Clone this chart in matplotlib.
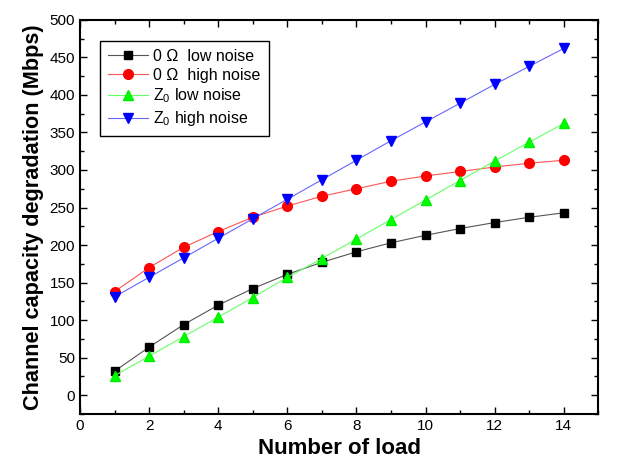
import numpy as np
import matplotlib.pyplot as plt
from matplotlib.ticker import MultipleLocator

plt.rcParams['font.family'] = ['Liberation Sans', 'DejaVu Sans']
plt.rcParams['mathtext.fontset'] = 'custom'
plt.rcParams['mathtext.rm'] = 'Liberation Sans'

# Data
loads = np.arange(1, 15)
ohm_low = [32, 64, 94, 120, 142, 161, 177, 191, 203, 213, 222, 230, 237, 243]
ohm_high = [138, 170, 197, 218, 237, 252, 265, 275, 285, 292, 298, 304, 309, 313]
z0_low = [26, 52, 78, 104, 130, 157, 182, 208, 234, 260, 286, 312, 337, 362]
z0_high = [131, 157, 183, 209, 235, 261, 287, 313, 339, 364, 389, 414, 438, 462]

labels = ['0 \u03a9  low noise', '0 \u03a9  high noise',
          'Z$_0$ low noise', 'Z$_0$ high noise']

fig = plt.figure(figsize=(6.2, 4.62), dpi=100)
ax = fig.add_axes([0.129, 0.104, 0.836, 0.853])

ax.plot(loads, ohm_low, '-s', color='#555555', mfc='black', mec='black', ms=6, lw=0.8, label=labels[0])
ax.plot(loads, ohm_high, '-o', color='#ff5555', mfc='red', mec='red', ms=7, lw=0.8, label=labels[1])
ax.plot(loads, z0_low, '-^', color='#66ff66', mfc='#00ff00', mec='#00ee00', ms=7.5, lw=0.8, label=labels[2])
ax.plot(loads, z0_high, '-v', color='#6666ff', mfc='blue', mec='blue', ms=7.5, lw=0.8, label=labels[3])

ax.set_xlim(0, 15)
ax.set_ylim(-25, 500)
ax.xaxis.set_major_locator(MultipleLocator(2))
ax.xaxis.set_minor_locator(MultipleLocator(1))
ax.yaxis.set_major_locator(MultipleLocator(50))
ax.yaxis.set_minor_locator(MultipleLocator(25))
ax.tick_params(which='both', direction='in', top=True, right=True, labelsize=11)
ax.tick_params(which='major', length=5, width=1)
ax.tick_params(which='minor', length=3, width=1)
for s in ax.spines.values():
    s.set_linewidth(1.5)

ax.set_xlabel('Number of load', fontsize=16, fontweight='bold')
ax.set_ylabel('Channel capacity degradation (Mbps)', fontsize=15.6, fontweight='bold')

leg = ax.legend(loc='upper left', bbox_to_anchor=(0.0386, 0.947), fontsize=11.5,
                fancybox=False, edgecolor='black', framealpha=1, borderaxespad=0,
                handlelength=2.5, handletextpad=0.35, labelspacing=0.25, borderpad=0.5)
leg.get_frame().set_linewidth(1)

plt.savefig('out.png', dpi=100)
